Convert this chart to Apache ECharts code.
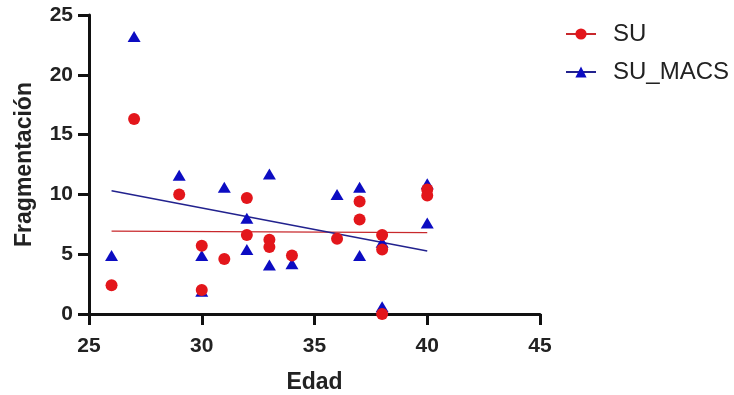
<!DOCTYPE html>
<html>
<head>
<meta charset="utf-8">
<script src="https://cdn.jsdelivr.net/npm/echarts@6/dist/echarts.min.js"></script>
<style>
  html, body { margin: 0; padding: 0; background: #fff; }
  #chart { width: 734px; height: 395px; }
</style>
</head>
<body>
<div id="chart"></div>
<script>
// SU (circles)
const edadSU = [26, 27, 29, 30, 30, 31, 32, 32, 33, 33, 34, 36, 37, 37, 38, 38, 38, 40, 40]
const fragSU = [2.4, 16.3, 10.0, 5.7, 2.0, 4.6, 9.7, 6.6, 6.2, 5.6, 4.9, 6.3, 9.4, 7.9, 6.6, 5.4, 0.0, 10.4, 9.9]

// SU_MACS (triangles)
const edadMACS = [26, 27, 29, 30, 30, 31, 32, 32, 33, 33, 34, 36, 37, 37, 38, 38, 40, 40]
const fragMACS = [4.9, 23.2, 11.6, 4.9, 1.9, 10.6, 8.0, 5.4, 11.7, 4.1, 4.2, 10.0, 10.6, 4.9, 6.0, 0.6, 10.9, 7.6]

// fitted lines, endpoints
const fitX = [26, 40]
const fitSU = [6.93, 6.80]
const fitMACS = [10.3, 5.26]

const xTicks = [25, 30, 35, 40, 45]
const yTicks = [0, 5, 10, 15, 20, 25]

const RED = '#e3161b'
const BLUE = '#0c0cc2'

const pairs = (xs, ys) => xs.map((x, i) => [x, ys[i]])

const chart = echarts.init(document.getElementById('chart'))

const axisCommon = {
  axisLine: { lineStyle: { color: '#111', width: 3 } },
  axisTick: { inside: false, length: 11, lineStyle: { color: '#111', width: 3 } },
  splitLine: { show: false },
  nameTextStyle: { fontFamily: 'Liberation Sans', fontWeight: 'bold', fontSize: 23, color: '#222' },
  axisLabel: { fontFamily: 'Liberation Sans', fontWeight: 'bold', fontSize: 21, color: '#222' }
}

chart.setOption({
  animation: false,
  grid: { left: 89, right: 194, top: 15, bottom: 81, outerBoundsMode: 'none', containLabel: false },
  legend: {
    orient: 'vertical',
    left: 560,
    top: 17,
    itemWidth: 30,
    itemHeight: 14,
    itemGap: 14,
    data: ['SU', 'SU_MACS'],
    textStyle: {
      fontFamily: 'Liberation Sans', fontSize: 24, color: '#222',
      lineHeight: 24, padding: [0, 0, 0, 12]
    }
  },
  xAxis: {
    ...axisCommon,
    type: 'value',
    min: xTicks[0],
    max: xTicks[xTicks.length - 1],
    interval: 5,
    name: 'Edad',
    nameLocation: 'middle',
    nameGap: 57,
    axisLabel: { ...axisCommon.axisLabel, margin: 22 }
  },
  yAxis: {
    ...axisCommon,
    type: 'value',
    min: yTicks[0],
    max: yTicks[yTicks.length - 1],
    interval: 5,
    name: 'Fragmentación',
    nameLocation: 'middle',
    nameGap: 53,
    axisLabel: { ...axisCommon.axisLabel, margin: 16 }
  },
  series: [
    {
      name: 'SU',
      type: 'line',
      data: pairs(fitX, fitSU),
      symbol: 'circle',
      showSymbol: false,
      z: 1,
      lineStyle: { color: '#c8282c', width: 1.2 },
      itemStyle: { color: RED }
    },
    {
      name: 'SU_MACS',
      type: 'line',
      data: pairs(fitX, fitMACS),
      symbol: 'triangle',
      showSymbol: false,
      z: 1,
      lineStyle: { color: '#22228e', width: 1.5 },
      itemStyle: { color: BLUE }
    },
    {
      name: 'SU_MACS',
      type: 'scatter',
      data: pairs(edadMACS, fragMACS),
      symbol: 'triangle',
      symbolSize: [13, 11],
      z: 2,
      itemStyle: { color: BLUE, opacity: 1 }
    },
    {
      name: 'SU',
      type: 'scatter',
      data: pairs(edadSU, fragSU),
      symbol: 'circle',
      symbolSize: 12,
      z: 3,
      itemStyle: { color: RED, opacity: 1 }
    }
  ]
})
</script>
</body>
</html>
